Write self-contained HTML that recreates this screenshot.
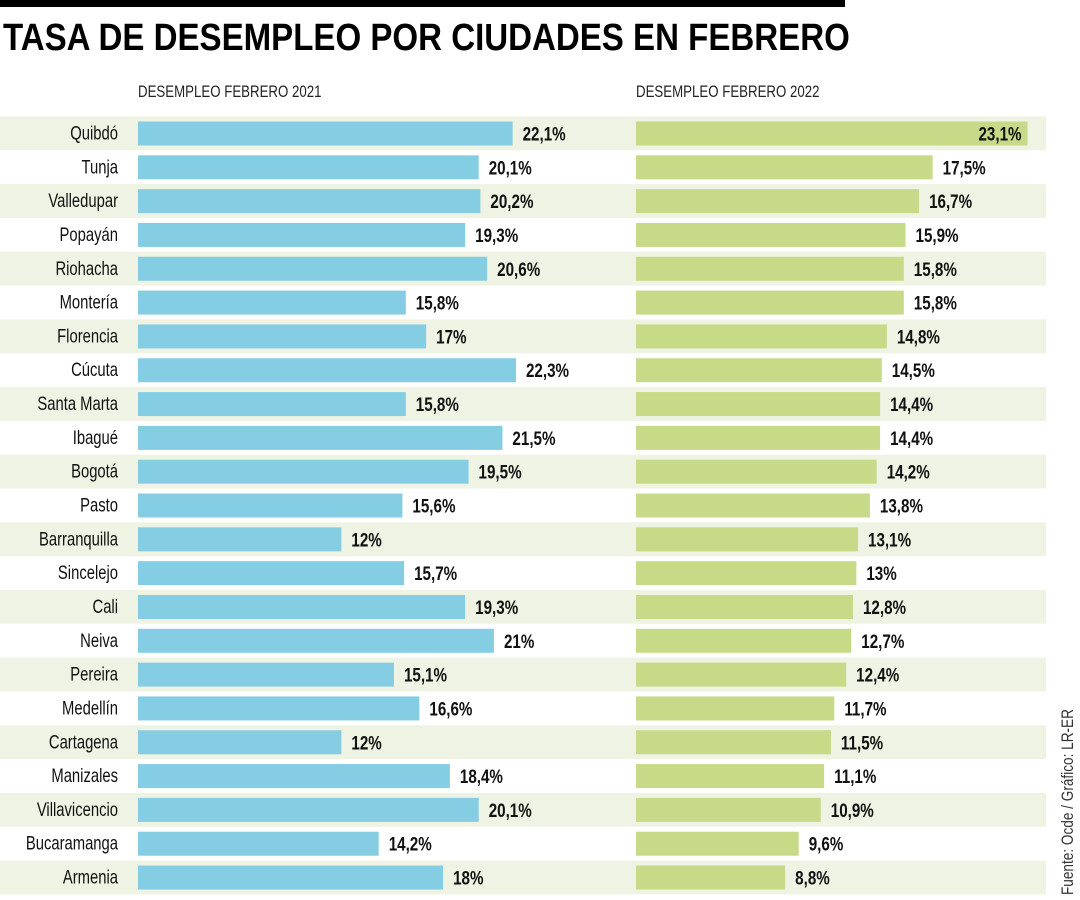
<!DOCTYPE html>
<html><head><meta charset="utf-8"><style>
body{margin:0;width:1080px;height:900px;background:#fff;position:relative;overflow:hidden;font-family:"Liberation Sans",sans-serif}
#topbar{position:absolute;left:0;top:0;width:845px;height:7px;background:#000}
#title{position:absolute;left:3px;top:17px;font:bold 38px "Liberation Sans",sans-serif;white-space:nowrap;transform-origin:0 0;transform:scaleX(0.87)}
.sub{position:absolute;top:82px;font-size:17px;color:#222;white-space:nowrap;transform-origin:0 0;transform:scaleX(0.78)}
#src{position:absolute;left:1058px;top:895px;transform-origin:0 0;transform:rotate(-90deg) scaleX(0.8);font-size:17px;color:#333;white-space:nowrap}
</style></head><body>
<div id="topbar"></div>
<div id="title">TASA DE DESEMPLEO POR CIUDADES EN FEBRERO</div>
<div class="sub" style="left:138px">DESEMPLEO FEBRERO 2021</div>
<div class="sub" style="left:636px">DESEMPLEO FEBRERO 2022</div>
<div id="src">Fuente: Ocde / Gráfico: LR-ER</div>
<svg id="chart" width="1080" height="900" style="position:absolute;left:0;top:0"></svg>
<script>
const cities=["Quibdó","Tunja","Valledupar","Popayán","Riohacha","Montería","Florencia","Cúcuta","Santa Marta","Ibagué","Bogotá","Pasto","Barranquilla","Sincelejo","Cali","Neiva","Pereira","Medellín","Cartagena","Manizales","Villavicencio","Bucaramanga","Armenia"];
const values2021=[22.1,20.1,20.2,19.3,20.6,15.8,17,22.3,15.8,21.5,19.5,15.6,12,15.7,19.3,21,15.1,16.6,12,18.4,20.1,14.2,18];
const values2022=[23.1,17.5,16.7,15.9,15.8,15.8,14.8,14.5,14.4,14.4,14.2,13.8,13.1,13,12.8,12.7,12.4,11.7,11.5,11.1,10.9,9.6,8.8];
const NS="http://www.w3.org/2000/svg";
const svg=document.getElementById('chart');
const y0=116.5,pitch=33.82,scale=16.95,x1=138,x2=636;
const rowY=i=>y0+i*pitch;
const xw=v=>v*scale;
const fmt=v=>String(v).replace('.',',')+'%';
function mk(t,a){const e=document.createElementNS(NS,t);for(const k in a)e.setAttribute(k,a[k]);svg.appendChild(e);return e;}
function txt(x,y,s,anchor,size,weight,sx){const e=mk('text',{x:0,y:0,transform:`translate(${x},${y}) scale(${sx},1)`,'text-anchor':anchor,'font-size':size,'font-weight':weight,fill:'#111'});e.textContent=s;return e;}
cities.forEach((c,i)=>{
  const y=rowY(i);
  if(i%2===0){const b=mk('rect',{x:0,y:y,width:1046,height:pitch,fill:'#eef3e3'});
    
    }
  const l=txt(118,y+23,c,'end',19,'normal',0.78);
  
  
  const b1=mk('rect',{x:x1,y:y+5,width:xw(values2021[i]),height:24,fill:'#85cde3'});
  
  
  const t1=txt(x1+xw(values2021[i])+10,y+24,fmt(values2021[i]),'start',19,'bold',0.8);
  
  
  const w2=xw(values2022[i]);
  const b2=mk('rect',{x:x2,y:y+5,width:w2,height:24,fill:'#c6da88'});
  
  
  const inside=w2>350;
  const t2=txt(inside?x2+w2-6:x2+w2+10,y+24,fmt(values2022[i]),inside?'end':'start',19,'bold',0.8);
  
  
});
</script>
</body></html>
